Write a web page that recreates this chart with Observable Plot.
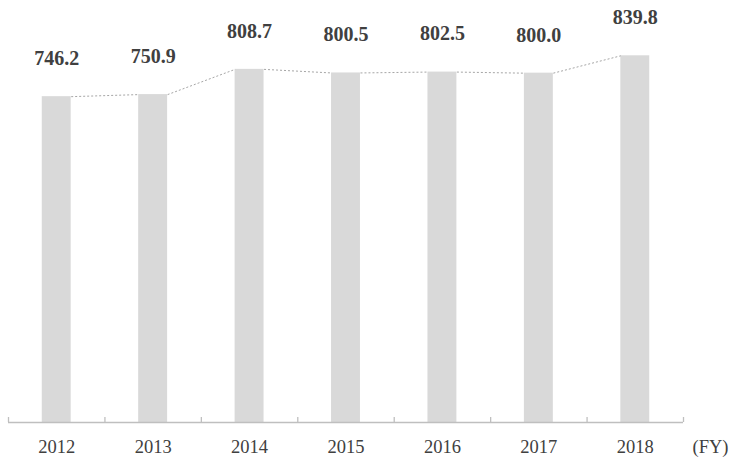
<!DOCTYPE html>
<html>
<head>
<meta charset="utf-8">
<script src="https://cdn.jsdelivr.net/npm/d3@7"></script>
<script src="https://cdn.jsdelivr.net/npm/@observablehq/plot@0.6"></script>
<style>
  html, body { margin: 0; padding: 0; background: #ffffff; }
  #chart { width: 736px; height: 457px; }
</style>
</head>
<body>
<div id="chart"></div>
<script>
const years = ["2012", "2013", "2014", "2015", "2016", "2017", "2018"];
const values = [746.2, 750.9, 808.7, 800.5, 802.5, 800.0, 839.8];
const unitLabel = "(FY)";

const data = years.map((year, i) => ({ year, i, value: values[i] }));
const links = data.slice(0, -1).map((d, k) => ({ a: d, b: data[k + 1] }));
const boundaries = d3.range(years.length + 1);

const barHalf = 0.15;
const serif = "'Liberation Serif', 'Times New Roman', serif";

const chart = Plot.plot({
  width: 736,
  height: 457,
  marginLeft: 8,
  marginRight: 53,
  marginTop: 29,
  marginBottom: 35,
  style: { background: "#ffffff", fontFamily: serif },
  x: { axis: null, domain: [0, years.length] },
  y: { axis: null, domain: [0, 900] },
  marks: [
    Plot.rectY(data, {
      x1: d => d.i + 0.5 - barHalf,
      x2: d => d.i + 0.5 + barHalf,
      y1: 0,
      y2: d => d.value,
      fill: "#d9d9d9"
    }),
    Plot.link(links, {
      x1: d => d.a.i + 0.5 + barHalf,
      y1: d => d.a.value,
      x2: d => d.b.i + 0.5 - barHalf,
      y2: d => d.b.value,
      stroke: "#a6a6a6",
      strokeWidth: 1,
      strokeDasharray: "2,2"
    }),
    Plot.ruleY([0], { stroke: "#bfbfbf", strokeWidth: 1.3 }),
    Plot.ruleX(boundaries, { x: d => d, y1: 0, y2: 0, insetTop: -5, stroke: "#bfbfbf", strokeWidth: 1.3 }),
    Plot.text(data, {
      x: d => d.i + 0.5,
      y: d => d.value,
      text: d => d.value.toFixed(1),
      dy: -38,
      fontSize: 20,
      fontWeight: "bold",
      fontFamily: serif,
      fill: "#404040"
    }),
    Plot.text(data, {
      x: d => d.i + 0.5,
      y: 0,
      text: d => d.year,
      dy: 25,
      fontSize: 18.5,
      fontFamily: serif,
      fill: "#404040"
    }),
    Plot.text([unitLabel], {
      x: years.length,
      y: 0,
      text: d => d,
      dx: 9,
      dy: 25,
      textAnchor: "start",
      fontSize: 18.5,
      fontFamily: serif,
      fill: "#404040"
    })
  ]
});

document.getElementById("chart").appendChild(chart);
</script>
</body>
</html>
